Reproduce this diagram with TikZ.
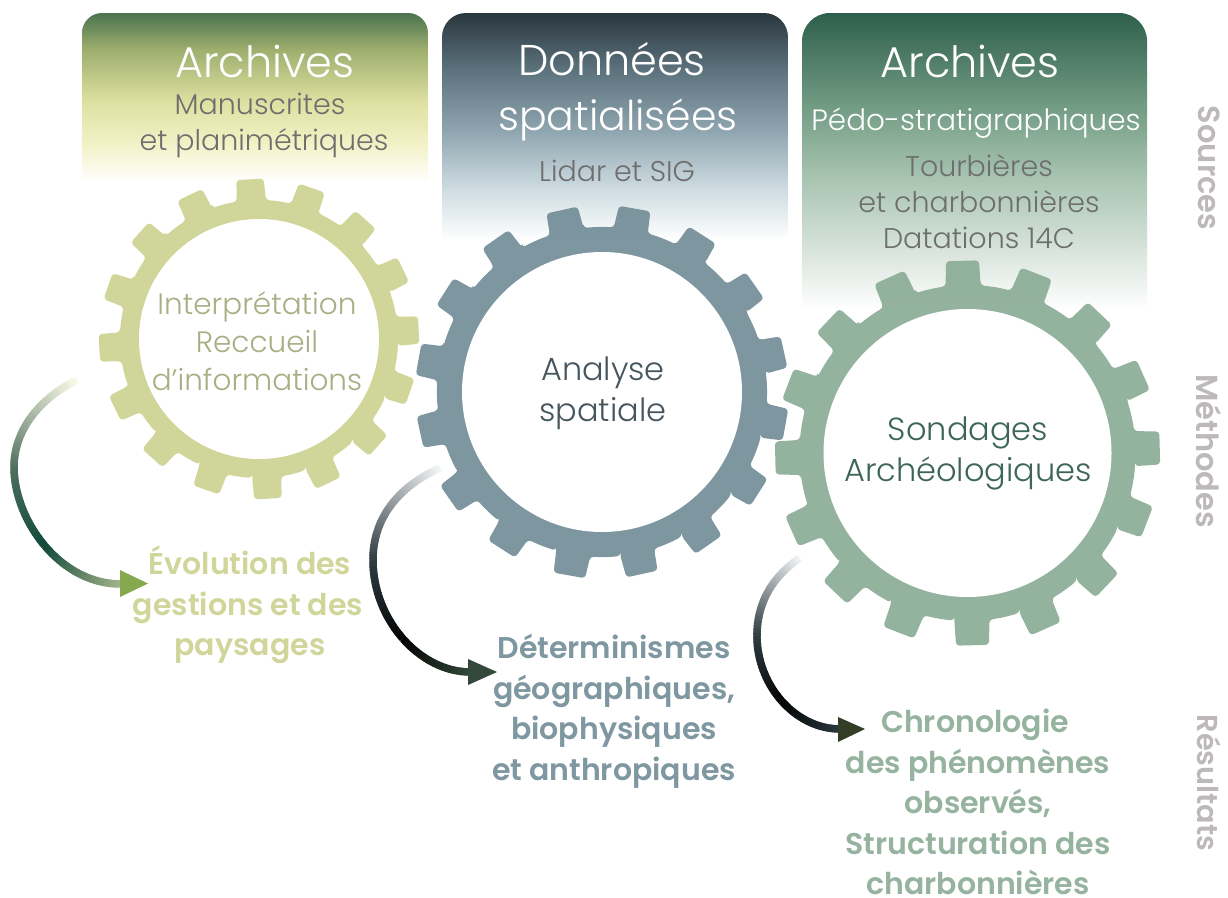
\documentclass[tikz,border=0pt]{standalone}
\usepackage{fontspec}
\setmainfont{Poppins}[UprightFont=* Light,BoldFont=* SemiBold]
\definecolor{gA}{HTML}{D0D69A}
\definecolor{gB}{HTML}{7E97A0}
\definecolor{gC}{HTML}{95B39F}
\definecolor{fA}{HTML}{CBD28F}
\definecolor{fB}{HTML}{708B95}
\definecolor{fC}{HTML}{89AB94}
\definecolor{tA}{HTML}{A9AF85}
\definecolor{tB}{HTML}{46565E}
\definecolor{tC}{HTML}{3E6655}
\definecolor{side}{HTML}{BDB9B9}
\definecolor{subtxt}{HTML}{6E6E6E}
\definecolor{a0}{HTML}{FAF9E6}\definecolor{a1}{HTML}{4F705E}\definecolor{a2}{HTML}{124A3C}\definecolor{a3}{HTML}{A8B68C}
\definecolor{b0}{HTML}{F2F5F6}\definecolor{b1}{HTML}{2F3C42}\definecolor{b2}{HTML}{030303}\definecolor{b3}{HTML}{34493B}
\definecolor{c3}{HTML}{2A3A40}
\definecolor{hdA}{HTML}{86A84F}\definecolor{hdB}{HTML}{34493B}\definecolor{hdC}{HTML}{343D26}
\definecolor{A1}{HTML}{F3F2C8}\definecolor{A2}{HTML}{DDE0A0}\definecolor{A3}{HTML}{9FAF6E}\definecolor{A4}{HTML}{4C7350}
\definecolor{B1}{HTML}{CFDDE2}\definecolor{B2}{HTML}{8FA5B0}\definecolor{B3}{HTML}{5A707A}\definecolor{B4}{HTML}{2A363E}
\definecolor{C1}{HTML}{D8E4DC}\definecolor{C2}{HTML}{A5C2AE}\definecolor{C3}{HTML}{6F9981}\definecolor{C4}{HTML}{2E5F4C}
\pgfdeclareverticalshading{headA}{100bp}{color(0bp)=(white);color(25bp)=(white);color(36bp)=(A1);color(49bp)=(A2);color(64bp)=(A3);color(75bp)=(A4);color(100bp)=(A4)}
\pgfdeclareverticalshading{headB}{100bp}{color(0bp)=(white);color(25bp)=(white);color(36bp)=(B1);color(49bp)=(B2);color(63bp)=(B3);color(75bp)=(B4);color(100bp)=(B4)}
\pgfdeclareverticalshading{headC}{100bp}{color(0bp)=(white);color(25bp)=(white);color(35bp)=(C1);color(48bp)=(C2);color(60bp)=(C3);color(75bp)=(C4);color(100bp)=(C4)}
\tikzset{
  txt/.style={align=center,anchor=center,inner sep=0pt},
  ttl/.style={txt,text=white,font=\fontsize{43}{55}\selectfont},
  sub/.style={txt,text=subtxt,font=\fontsize{28.5}{36}\selectfont},
  cen/.style={txt,font=\fontsize{32}{41}\selectfont},
  res/.style={txt,font=\fontsize{30}{40.5}\selectfont\bfseries},
  sidel/.style={txt,text=side,rotate=-90,font=\fontsize{30.5}{30}\selectfont\bfseries},
  headbox/.style={shading=#1},
}
% #1 cx, #2 cy, #3 inner r, #4 root r, #5 tip r, #6 rot, #7 colour
\newcommand{\gearshape}[7]{%
  \fill[#7,rounded corners=3.5pt]
   ([shift={(#1,#2)}]{#6-6}:#4)
   \foreach \k in {0,...,15}{
     -- ([shift={(#1,#2)}]{#6+22.5*\k-6}:#4)
     -- ([shift={(#1,#2)}]{#6+22.5*\k-4.9}:#5)
     -- ([shift={(#1,#2)}]{#6+22.5*\k+4.9}:#5)
     -- ([shift={(#1,#2)}]{#6+22.5*\k+6}:#4)
     arc[start angle={#6+22.5*\k+6},end angle={#6+22.5*(\k+1)-6},radius=#4]
   } -- cycle;
}
% gradient Bezier piece: #1 = x0,y0,x1,y1,x2,y2,x3,y3 ; #2 #3 colours at its ends
\def\gradseg#1#2#3{\gradsegparse#1;{#2}{#3}}
\def\gradsegparse#1,#2,#3,#4,#5,#6,#7,#8;#9{\gradsegdo{#1}{#2}{#3}{#4}{#5}{#6}{#7}{#8}{#9}}
\def\gradsegdo#1#2#3#4#5#6#7#8#9{%
  \def\gca{#9}\gradsegfin{#1}{#2}{#3}{#4}{#5}{#6}{#7}{#8}}
\newcommand{\gradsegfin}[9]{%
  \foreach \i in {0,...,49}{
    \pgfmathsetmacro{\ta}{\i/50}
    \pgfmathsetmacro{\tb}{min((\i+1.5)/50,1)}
    \pgfmathsetmacro{\xa}{(1-\ta)^3*#1+3*(1-\ta)^2*\ta*#3+3*(1-\ta)*\ta^2*#5+\ta^3*#7}
    \pgfmathsetmacro{\ya}{(1-\ta)^3*#2+3*(1-\ta)^2*\ta*#4+3*(1-\ta)*\ta^2*#6+\ta^3*#8}
    \pgfmathsetmacro{\xb}{(1-\tb)^3*#1+3*(1-\tb)^2*\tb*#3+3*(1-\tb)*\tb^2*#5+\tb^3*#7}
    \pgfmathsetmacro{\yb}{(1-\tb)^3*#2+3*(1-\tb)^2*\tb*#4+3*(1-\tb)*\tb^2*#6+\tb^3*#8}
    \pgfmathsetmacro{\mixp}{100*(1-\ta)}
    \draw[color=\gca!\mixp!#9,line width=7.5pt] (\xa,-\ya) -- (\xb,-\yb);
  }
}
\begin{document}
\begin{tikzpicture}[x=1pt,y=1pt]
\useasboundingbox (0,0) rectangle (1228,-897);
\fill[white] (0,0) rectangle (1228,-897);
% header panels
\path[headbox=headA] (82,-182) [rounded corners=20pt] -- (82,-13) -- (428,-13) [sharp corners] -- (428,-182) -- cycle;
\path[headbox=headB] (442,-240) [rounded corners=24pt] -- (442,-13) -- (788,-13) [sharp corners] -- (788,-240) -- cycle;
\path[headbox=headC] (802,-310) [rounded corners=28pt] -- (802,-13) -- (1147,-13) [sharp corners] -- (1147,-310) -- cycle;
% gears
\begin{scope}[opacity=.9]
\gearshape{259}{-339}{120}{139}{160.5}{3.2}{fA}
\gearshape{967.5}{-453}{144}{168}{193}{1.5}{fC}
\gearshape{602}{-392}{140}{165}{187}{12.4}{fB}
\end{scope}
\fill[white] (259,-339) circle[radius=120];
\fill[white] (967.5,-453) circle[radius=144];
\fill[white] (602,-392) circle[radius=140];
% header texts
\node[ttl] (t1) at (265,-62) {Archives};
\node[sub] (s1) at (264,-125) {Manuscrites\hspace*{8pt}\\et planimétriques};
\node[ttl] (t2) at (618,-92) {Données\hspace*{12pt}\\{\fontsize{41}{55}\selectfont spatialisées}};
\node[sub] (s2) at (617,-171) {Lidar et SIG};
\node[ttl] (t3) at (970,-62) {Archives};
\node[sub,text=white,font=\fontsize{29.4}{36}\selectfont] (p3) at (976,-123) {Pédo-stratigraphiques};
\node[sub] (s3) at (979,-202) {Tourbières\\et charbonnières\\Datations 14C};
% gear texts
\node[cen,text=tA,font=\fontsize{29.5}{38}\selectfont] (m1) at (257,-341) {Interprétation\\Reccueil\\d'informations};
\node[cen,text=tB] (m2) at (603,-393) {Analyse\\spatiale};
\node[cen,text=tC] (m3) at (968,-453.5) {Sondages\\Archéologiques};
% results
\node[res,text=gA] (r1) at (248,-605) {Évolution des\hspace*{-4pt}\\gestions et des\\paysages\hspace*{-4pt}};
\node[res,text=gB] (r2) at (614,-711) {Déterminismes\\géographiques,\\biophysiques\\et anthropiques};
\node[res,text=gC] (r3) at (978,-802) {Chronologie\hspace*{6pt}\\des phénomènes\hspace*{6pt}\\observés,\hspace*{6pt}\\Structuration des\\charbonnières};
% side labels
\node[sidel] (l1) at (1209,-168) {Sources};
\node[sidel] (l2) at (1209,-451) {Méthodes};
\node[sidel,font=\fontsize{28.8}{30}\selectfont\bfseries] (l3) at (1209,-783) {Résultats};
% arrows
\gradseg{77,380,40,398,14,430,14,467}{a0}{a1}
\gradseg{14,467,14,493.5,25.5,523,44.75,545.75}{a1}{a2}
\gradseg{44.75,545.75,64,568.5,91,584.5,122,584}{a2}{a3}
\fill[hdA] (120,-570) -- (148,-583.5) -- (120,-597) -- cycle;
\gradseg{440,468,402,485,373,515,373,560}{b0}{b1}
\gradseg{373,560,373,590,384.75,618,402.75,638.5}{b1}{b2}
\gradseg{402.75,638.5,420.75,659,445,672,470,672}{b2}{b3}
\fill[hdB] (468,-659) -- (497,-672) -- (468,-685) -- cycle;
\gradseg{800,558,775,575,757,600,757,636}{b0}{b1}
\gradseg{757,636,757,660.5,766.5,683.75,781.6,700.9}{b1}{b2}
\gradseg{781.6,700.9,796.75,718,817.5,729,840,729}{b2}{c3}
\fill[hdC] (838,-717) -- (865,-729) -- (838,-742) -- cycle;
\end{tikzpicture}
\end{document}
